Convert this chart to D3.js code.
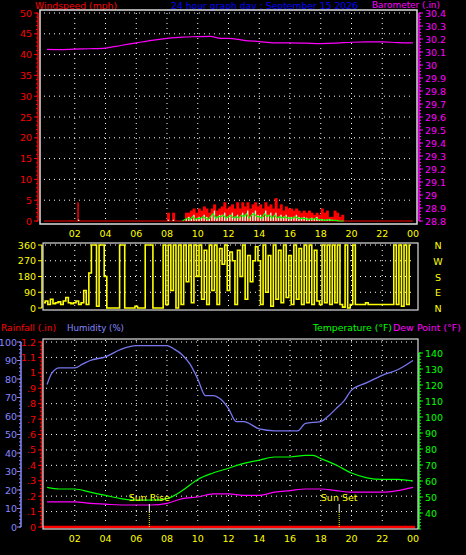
<!DOCTYPE html>
<html><head><meta charset="utf-8">
<script src="https://cdn.jsdelivr.net/npm/d3@7"></script>
<style>body{margin:0;background:#000}svg{display:block}text{font-family:"DejaVu Sans",sans-serif;font-size:9.5px}</style>
</head><body><svg id="c" width="466" height="555"></svg>
<script>
// ---- data ----
const hourTicks = [2,4,6,8,10,12,14,16,18,20,22,24];
const hourLabels = ["02","04","06","08","10","12","14","16","18","20","22","00"];
const baroHours = [0.2,1,2,3,4,5,6,7,8,9,10,10.8,11.5,12,13,14,15,16,17,18,19,20,21,22,23,24];
const baroVals = [30.12,30.118,30.122,30.125,30.13,30.15,30.17,30.19,30.205,30.215,30.218,30.22,30.205,30.205,30.19,30.18,30.17,30.17,30.168,30.165,30.168,30.175,30.178,30.178,30.172,30.17];
const gust = [0,0,0,0,0,0,0,0,0,0,0,0,0,4.5,0,0,0,0,0,0,0,0,0,0,0,0,0,0,0,0,0,0,0,0,0,0,0,0,0,0,0,0,0,0,0,0,0,0,
  2,0,2,0,0,0,0,2,2,2.5,3,2,3,2.5,3.5,3,2,3,4,2.5,3,3.5,4.5,3,3.5,4,3,4.5,3,4.5,3.5,4.5,3,4,4.5,3.5,4,3,4.5,3.5,4,3,5.5,3,4,2.5,3.5,3,3,2.5,3,2.5,2,2.5,2,2.5,2,1.5,2,1.5,3,2,2.5,1,1,2.5,2,1,1.5,0,
  0,0,0,0,0,0,0,0,0,0,0,0,0,0,0,0,0,0,0,0,0,0,0,0,0,0];
const avgWind = [0,0,0,0,0,0,0,0,0,0,0,0,0,0.3,0,0,0,0,0,0,0,0,0,0,0,0,0,0,0,0,0,0,0,0,0,0,0,0,0,0,0,0,0,0,0,0,0,0,
  0.3,0,0.3,0,0,0,0,0.5,1,0.5,1.5,0.5,1,0.8,1.5,1,0.5,1.5,2.5,1,1.5,1.5,2,1,1.5,2,1,1.5,1,2,1.5,2.5,1,2,2.5,1.5,1.5,1,2.5,1.5,2,1,2,1,1.5,1,1.5,1,1,1,1.5,1,0.8,1,0.8,0.5,0.8,0.5,1,0.5,0.5,0.3,0.3,0.5,0.3,0.2,0.2,0,
  0,0,0,0,0,0,0,0,0,0,0,0,0,0,0,0,0,0,0,0,0,0,0,0,0,0];
const direction = [30,40,20,50,25,30,35,20,40,60,30,25,30,40,20,30,100,20,200,360,360,10,360,360,180,0,0,0,0,0,360,360,0,0,0,0,10,0,0,0,360,360,360,0,0,0,0,360,
  20,360,100,360,0,360,20,360,150,360,30,360,180,360,50,330,20,360,100,360,20,340,250,360,100,320,270,20,330,180,360,50,300,150,270,350,270,20,360,90,300,10,360,50,330,30,360,60,300,20,360,50,340,20,360,30,360,20,330,40,20,360,30,360,20,360,30,360,20,5,360,0,
  20,360,20,20,20,20,30,20,20,20,20,20,20,20,20,20,20,360,20,360,10,360,20,360];
const humHours = [0.2,0.5,1,2,2.5,3,4,5,6,7,8,8.5,9,9.5,10,10.5,11,11.5,12,12.5,13,14,15,16,16.5,17,18,18.5,19,19.5,20,21,22,23,24];
const humVals = [77,83,86,86,88,90,92,96,98,98,98,96,93,88,80,71,71,69,64,57,57,53,52,52,52,56,57,60,64,68,74,78,82,85,90];
const tempHours = [0.2,1,2,3,4,5,6,7,8,9,10,11,12,13,14,15,16,17,17.5,18,19,20,21,22,23,24];
const tempVals = [56,55,55,53,51,49,48,48,49,54,61,65,68,71,73,75,75,76,76,74,70,65,62,61,61,60];
const dewHours = [0.2,1,2,3,4,5,6,7,8,9,10,11,12,13,14,15,16,17,18,19,20,21,22,23,24];
const dewVals = [47,47,47,46,45.5,45,45,45,46,49,50,52,52,51,51,53,54,55,55,54,53,53,53,54,56];
const rainVals = [0,0];
const sunEvents = [{label:"Sun Rise",h:6.85},{label:"Sun Set",h:19.2}];

const svg = d3.select("#c");
const x = d3.scaleLinear().domain([0,24]).range([44,413]);
const GRID = "#fff", FR = "#ddd";
function hgrid(g, ys, x0, x1){ ys.forEach(y=>g.append("line").attr("x1",x0).attr("x2",x1).attr("y1",y).attr("y2",y).attr("stroke",GRID).attr("stroke-dasharray","1,4")); }
function vgrid(g, y0, y1){ hourTicks.slice(0,-1).forEach(h=>g.append("line").attr("x1",x(h)).attr("x2",x(h)).attr("y1",y0).attr("y2",y1).attr("stroke",GRID).attr("stroke-dasharray","1,4")); }
function xlabels(y){ hourTicks.forEach((h,i)=>svg.append("text").attr("x",x(h)).attr("y",y).attr("text-anchor","middle").attr("fill","#ff0").attr("font-size","10px").text(hourLabels[i])); }
function vaxis(xp, scale, ticks, minor, color, side, fmt, fs, off){
  const g = svg.append("g");
  g.append("line").attr("x1",xp).attr("x2",xp).attr("y1",scale.range()[1]).attr("y2",scale.range()[0]).attr("stroke",color).attr("stroke-width",1.5);
  const d=side<0?-1:1;
  minor.forEach(v=>g.append("line").attr("x1",xp).attr("x2",xp+d*2).attr("y1",scale(v)).attr("y2",scale(v)).attr("stroke",color));
  ticks.forEach(v=>{g.append("line").attr("x1",xp).attr("x2",xp+d*4).attr("y1",scale(v)).attr("y2",scale(v)).attr("stroke",color);
    g.append("text").attr("x",xp+d*(off||6)).attr("y",scale(v)+3.5).attr("text-anchor",side<0?"end":"start").attr("fill",color).attr("font-size",fs||"10px").text(fmt?fmt(v):v);});
}
function title(t,x0,w,y,c,fs){ svg.append("text").attr("x",x0).attr("y",y).attr("fill",c).attr("font-size",fs||"11px").attr("textLength",w).attr("lengthAdjust","spacingAndGlyphs").text(t); }

// ---- Panel 1 ----
const yW = d3.scaleLinear().domain([0,50]).range([221,13]);
const yB = d3.scaleLinear().domain([28.8,30.4]).range([221,13]);
title("Windspeed (mph)",35,82,9,"#f00");
title("24 hour graph day : September 15 2026",171,187,9,"#00f");
title("Barometer (.in)",372,68,8,"#f0f","8.5px");
const g1 = svg.append("g");
hgrid(g1, d3.range(5,55,5).map(yW), 44, 413);
vgrid(g1, 13, 221);
vaxis(38, yW, d3.range(0,55,5), d3.range(0,51,1), "#f00", -1);
vaxis(419, yB, d3.range(28.8,30.41,0.1).map(v=>+v.toFixed(1)), d3.range(28.8,30.41,0.025), "#f0f", 1, v=>v.toFixed(1).replace(/\.0$/,""), "9.5px");
const tW = i=>x(i/6);
g1.append("line").attr("x1",x(0)).attr("x2",x(24)).attr("y1",yW(0)).attr("y2",yW(0)).attr("stroke","#f00");
gust.forEach((v,i)=>{ if(v>0) g1.append("rect").attr("x",tW(i)).attr("width",i===13?1.5:3).attr("y",yW(v)).attr("height",yW(0)-yW(v)).attr("fill","#f00"); });
avgWind.forEach((v,i)=>{ if(v>0) g1.append("rect").attr("x",tW(i)+0.6).attr("width",1.4).attr("y",yW(v)).attr("height",yW(0)-yW(v)).attr("fill","#dfd"); });
g1.append("path").datum(avgWind.map((v,i)=>[i,v*0.7])).attr("fill","none").attr("stroke","#0f0").attr("stroke-width",1.2)
  .attr("d",d3.line().x(d=>tW(d[0])).y(d=>yW(d[1])).defined(d=>d[0]>=54&&d[0]<=117));
g1.append("path").datum(baroHours.map((h,i)=>[h,baroVals[i]])).attr("fill","none").attr("stroke","#f0f").attr("stroke-width",1.2)
  .attr("d",d3.line().x(d=>x(d[0])).y(d=>yB(d[1])).curve(d3.curveMonotoneX));
svg.append("rect").attr("x",40).attr("y",10).attr("width",377).attr("height",214).attr("fill","none").attr("stroke",FR).attr("stroke-width",1.5);
xlabels(237);

// ---- Panel 2 ----
const yD = d3.scaleLinear().domain([0,360]).range([308,245]);
const g2 = svg.append("g");
hgrid(g2, [90,180,270,360].map(yD), 45, 413);
vgrid(g2, 245, 308);
vaxis(42, yD, [0,90,180,270,360], [], "#ff0", -1, null, "9.5px");
svg.append("rect").attr("x",43).attr("y",243).attr("width",375).attr("height",67).attr("fill","none").attr("stroke",FR).attr("stroke-width",1.2);
g2.append("path").datum(direction).attr("fill","none").attr("stroke","#ff0").attr("stroke-width",1.6)
  .attr("d",d3.line().x((d,i)=>x(i/6)).y(d=>yD(d)).curve(d3.curveStep));
["N","W","S","E","N"].forEach((t,i)=>svg.append("text").attr("x",438).attr("y",yD(360-i*90)+4).attr("text-anchor","middle").attr("fill","#ff0").attr("font-size","11px").text(t));

// ---- Panel 3 ----
const yH = d3.scaleLinear().domain([0,100]).range([527,342]);
const yR = d3.scaleLinear().domain([0,1.2]).range([527,342]);
const yT = d3.scaleLinear().domain([30,140]).range([529,353]);
title("Rainfall (.in)",1,55,331,"#f00");
title("Humidity (%)",67,57,331,"#88f");
title("Temperature (°F)",313,79,331,"#0f0");
title("Dew Point (°F)",393,68,331,"#f0f");
const g3 = svg.append("g");
hgrid(g3, d3.range(0.1,1.25,0.1).map(yR), 46, 413);
vgrid(g3, 340, 524);
vaxis(21, yH, d3.range(0,101,10), d3.range(0,101,2), "#88f", -1, null, "9px", 4);
vaxis(42, yR, d3.range(0,1.21,0.1).map(v=>+v.toFixed(1)), d3.range(0,1.21,0.025), "#f00", -1, v=>v===0?"0":(v>=1?String(v):String(v).replace(/^0/,"")), "9.5px");
vaxis(419, yT, d3.range(40,141,10), d3.range(30,141,2), "#0f0", 1, null, "9.5px");
svg.append("rect").attr("x",43).attr("y",339).attr("width",375).attr("height",190).attr("fill","none").attr("stroke",FR).attr("stroke-width",1.2);
const lineM = d3.line().x(d=>x(d[0])).y(d=>d[1]).curve(d3.curveMonotoneX);
g3.append("path").datum(humHours.map((h,i)=>[h,yH(humVals[i])])).attr("fill","none").attr("stroke","#77e").attr("stroke-width",1.3).attr("d",lineM);
g3.append("path").datum(tempHours.map((h,i)=>[h,yT(tempVals[i])])).attr("fill","none").attr("stroke","#0f0").attr("stroke-width",1.2).attr("d",lineM);
g3.append("path").datum(dewHours.map((h,i)=>[h,yT(dewVals[i])])).attr("fill","none").attr("stroke","#f0f").attr("stroke-width",1.2).attr("d",lineM);
g3.append("line").attr("x1",x(0)-1).attr("x2",x(24)+2).attr("y1",yR(rainVals[0])).attr("y2",yR(rainVals[1])).attr("stroke","#f00").attr("stroke-width",2.5);
sunEvents.forEach(s=>{
  g3.append("line").attr("x1",x(s.h)).attr("x2",x(s.h)).attr("y1",504).attr("y2",512).attr("stroke","#fff");
  g3.append("line").attr("x1",x(s.h)).attr("x2",x(s.h)).attr("y1",512).attr("y2",527).attr("stroke","#ff0").attr("stroke-dasharray","1,1");
  g3.append("text").attr("x",x(s.h)).attr("y",501).attr("text-anchor","middle").attr("fill","#ff0").text(s.label);
});
xlabels(542);
</script></body></html>
